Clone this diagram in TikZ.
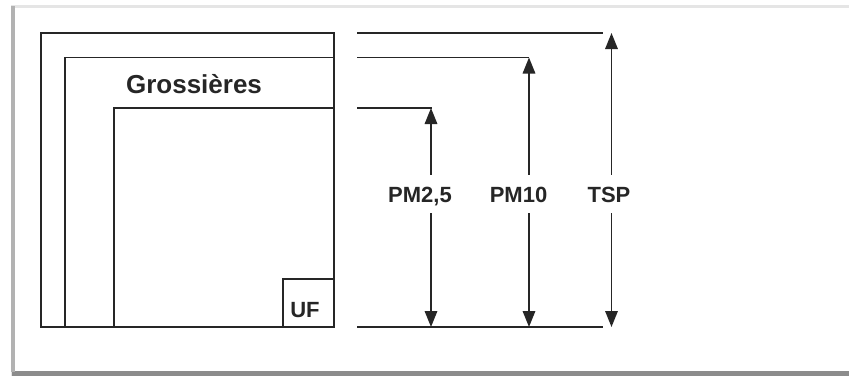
\documentclass[tikz,border=0pt]{standalone}
\usepackage{fontspec}
\setmainfont{Liberation Sans}
\usetikzlibrary{arrows.meta}
\tikzset{
  box/.style={line width=1.8pt, draw=black!85},
  arr/.style={line width=1.6pt, draw=black!85, arrows={-Triangle[length=16pt,width=12.5pt]}},
  lab/.style={font=\bfseries\fontsize{22}{24}\selectfont, text=black!85, inner sep=0pt,
              text height=16pt, text depth=0pt, minimum height=38pt},
  big/.style={font=\bfseries\fontsize{26}{28}\selectfont, text=black!85, inner sep=0pt}
}
\begin{document}
\begin{tikzpicture}[x=1pt,y=-1pt]
\useasboundingbox (0,0) rectangle (849,376);
% image frame with shadow
\fill[white] (0,0) rectangle (849,376);
\fill[black!10] (11,5) rectangle (849,376);
\fill[black!45] (12,370.5) rectangle (849,376);
\fill[black!30] (11,6) rectangle (15,372);
\fill[white] (15,8) rectangle (849,370.5);
% nested boxes
\draw[box] (41,33) rectangle (334,327);
\draw[box] (65,327) -- (65,57.5) -- (334,57.5);
\draw[box] (114,327) -- (114,108) -- (334,108);
\draw[box] (283,327) -- (283,279) -- (334,279);
\node[big] (gros) at (194,84) {Grossières};
\node[lab, minimum height=0pt] (uf) at (305,309) {UF};
% extension lines
\coordinate (e0a) at (357,33);   \coordinate (e0b) at (603,33);
\coordinate (e1a) at (357,57.5); \coordinate (e1b) at (529,57.5);
\coordinate (e2a) at (357,108);  \coordinate (e2b) at (432,108);
\coordinate (eba) at (357,327);  \coordinate (ebb) at (603,327);
\draw[box] (e0a) -- (e0b);
\draw[box] (e1a) -- (e1b);
\draw[box] (e2a) -- (e2b);
\draw[box] (eba) -- (ebb);
% arrow targets
\coordinate (p25t) at (431,108); \coordinate (p25b) at (431,327);
\coordinate (p10t) at (529,57.5); \coordinate (p10b) at (529,327);
\coordinate (tspt) at (611.5,33); \coordinate (tspb) at (611.5,327);
% labels
\node[lab] (p25) at (420,194) {PM2,5};
\node[lab] (p10) at (518.5,194) {PM10};
\node[lab] (tsp) at (609,194) {TSP};
\draw[arr] (p25t |- p25.north) -- (p25t);
\draw[arr] (p25t |- p25.south) -- (p25b);
\draw[arr] (p10t |- p10.north) -- (p10t);
\draw[arr] (p10t |- p10.south) -- (p10b);
\draw[arr] (tspt |- tsp.north) -- (tspt);
\draw[arr] (tspt |- tsp.south) -- (tspb);
\end{tikzpicture}
\end{document}
